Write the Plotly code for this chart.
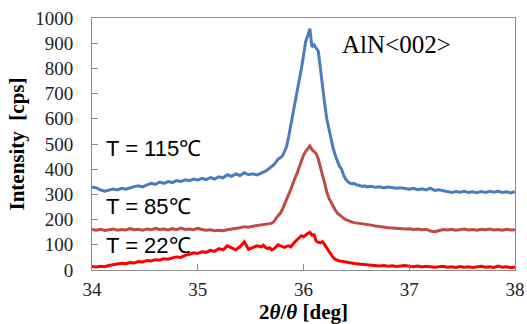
import numpy as np
import plotly.graph_objects as go

# 2theta grid (deg): coarse outside the peak, finer around it
two_theta = np.round(np.concatenate([
    np.arange(34.00, 35.601, 0.04),
    np.arange(35.62, 36.601, 0.02),
    np.arange(36.64, 38.001, 0.04),
]), 2)

t115 = [
    330, 326, 318, 313, 317, 321, 318, 324, 321, 327, 331, 334, 330, 338, 344, 340, 349, 344, 351, 347,
    355, 351, 358, 354, 361, 357, 364, 359, 367, 361, 370, 366, 378, 372, 381, 375, 386, 378, 382, 377, 384,
    386, 392, 398, 405, 410, 418, 428, 440, 445, 452, 470, 490, 530, 575, 615, 660, 700, 740, 800, 850,
    906, 930, 958, 885, 893, 880, 868, 800, 722, 660, 600, 560, 520, 484, 455, 430, 412, 400, 375, 360,
    350, 345, 342, 344, 338, 336, 335, 332, 334, 330,
    332, 328, 330, 326, 329, 327, 324, 326, 322, 321, 324, 319, 322, 318, 325, 316, 318, 314, 312, 308,
    311, 309, 312, 308, 310, 307, 311, 308, 312, 309, 312, 308, 310, 306, 311,
]

t85 = [
    161, 158, 162, 157, 160, 163, 158, 161, 159, 164, 160, 162, 158, 163, 160, 165, 161, 163, 159, 164,
    160, 166, 161, 163, 160, 165, 161, 158, 160, 156, 158, 156, 160, 162, 165, 168, 172, 170, 174, 176, 178,
    180, 182, 181, 184, 186, 192, 205, 215, 225, 240, 258, 278, 300, 320, 345, 365, 385, 410, 436, 455,
    470, 482, 492, 478, 470, 462, 440, 410, 384, 345, 310, 285, 270, 252, 238, 226, 218, 211, 205, 200,
    196, 192, 190, 188, 187, 185, 186, 183, 184, 181,
    178, 175, 172, 170, 168, 167, 165, 166, 163, 164, 161, 163, 160, 162, 155, 152, 158, 161, 159, 162,
    158, 161, 163, 159, 161, 158, 162, 160, 163, 159, 161, 158, 162, 159, 160,
]

t22 = [
    14, 12, 15, 13, 18, 20, 24, 27, 25, 30, 28, 34, 32, 38, 36, 41, 39, 45, 43, 48,
    52, 50, 58, 62, 68, 66, 72, 70, 78, 74, 85, 80, 96, 88, 80, 92, 112, 82, 88, 96, 92,
    98, 90, 85, 88, 80, 84, 92, 100, 97, 95, 90, 94, 96, 92, 104, 112, 120, 128, 136, 132,
    140, 145, 150, 138, 140, 115, 110, 108, 112, 100, 85, 72, 60, 50, 42, 38, 36, 35, 33, 32,
    31, 30, 28, 26, 25, 24, 22, 23, 21, 20,
    20, 18, 16, 18, 15, 17, 14, 16, 18, 15, 13, 16, 12, 15, 14, 11, 13, 15, 11, 13,
    10, 14, 11, 13, 10, 12, 15, 11, 13, 10, 16, 11, 13, 9, 12,
]

series = [
    ("T = 115℃", t115, "#4A7EBB"),
    ("T = 85℃", t85, "#BE4B48"),
    ("T = 22℃", t22, "#FF0000"),
]

labels = [("T = 115℃", 484), ("T = 85℃", 252), ("T = 22℃", 99)]

SERIF = "Liberation Serif"

fig = go.Figure()
for name, ys, col in series:
    fig.add_trace(go.Scatter(x=two_theta, y=ys, mode="lines", name=name,
                             line=dict(color=col, width=3), showlegend=False))

for txt, yv in labels:
    fig.add_annotation(x=34.11, y=yv, text=txt, showarrow=False, xanchor="left", yanchor="middle",
                       font=dict(family="Liberation Sans", size=22, color="#000"))

fig.add_annotation(x=36.88, y=893, text="AlN&lt;002&gt;", showarrow=False, xanchor="center", yanchor="middle",
                   font=dict(family=SERIF, size=25, color="#000"))

axis_font = dict(family=SERIF, size=19, color="#222")
fig.update_layout(
    width=527, height=324,
    margin=dict(l=92, r=12, t=18, b=54, autoexpand=False),
    paper_bgcolor="white", plot_bgcolor="white",
    xaxis=dict(range=[34, 38], dtick=1, tick0=34, showgrid=False, zeroline=False,
               showline=True, linecolor="#8c8c8c", linewidth=1, mirror=True,
               ticks="inside", ticklen=6, tickcolor="#8c8c8c", automargin=False,
               tickfont=axis_font, ticklabelstandoff=2,
               title=dict(text="<b>2<i>θ</i>/<i>θ</i> [deg]</b>", standoff=7,
                          font=dict(family=SERIF, size=21, color="#000"))),
    yaxis=dict(range=[0, 1000], dtick=100, showgrid=False, zeroline=False,
               showline=True, linecolor="#8c8c8c", linewidth=1, mirror=True,
               ticks="inside", ticklen=6, tickcolor="#8c8c8c", automargin=False,
               tickfont=axis_font, ticklabelstandoff=14,
               title=dict(text="<b>Intensity  [cps]</b>", standoff=4,
                          font=dict(family=SERIF, size=21, color="#000"))),
)

fig.write_html("out.html")
